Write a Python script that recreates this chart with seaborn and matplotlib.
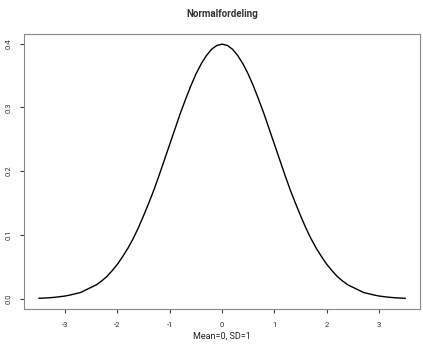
import matplotlib
matplotlib.use("Agg")
import matplotlib.pyplot as plt
import seaborn as sns
import pandas as pd

# values
x_vals = [-3.5, -3.4, -3.3, -3.2, -3.1, -3.0, -2.9, -2.8, -2.7, -2.6, -2.5, -2.4, -2.3, -2.2, -2.1,
          -2.0, -1.9, -1.8, -1.7, -1.6, -1.5, -1.4, -1.3, -1.2, -1.1, -1.0, -0.9, -0.8, -0.7, -0.6,
          -0.5, -0.4, -0.3, -0.2, -0.1, 0.0, 0.1, 0.2, 0.3, 0.4, 0.5, 0.6, 0.7, 0.8, 0.9, 1.0,
          1.1, 1.2, 1.3, 1.4, 1.5, 1.6, 1.7, 1.8, 1.9, 2.0, 2.1, 2.2, 2.3, 2.4, 2.5, 2.6, 2.7,
          2.8, 2.9, 3.0, 3.1, 3.2, 3.3, 3.4, 3.5]
density = [0.0009, 0.0012, 0.0017, 0.0024, 0.0033, 0.0044, 0.006, 0.008, 0.010, 0.014, 0.018, 0.022, 0.028,
           0.035, 0.044, 0.054, 0.066, 0.079, 0.094, 0.111, 0.130, 0.150, 0.171, 0.194, 0.218, 0.242,
           0.266, 0.290, 0.312, 0.333, 0.352, 0.368, 0.381, 0.391, 0.397, 0.399, 0.397, 0.391, 0.381,
           0.368, 0.352, 0.333, 0.312, 0.290, 0.266, 0.242, 0.218, 0.194, 0.171, 0.150, 0.130, 0.111,
           0.094, 0.079, 0.066, 0.054, 0.044, 0.035, 0.028, 0.022, 0.018, 0.014, 0.010, 0.008, 0.006,
           0.0044, 0.0033, 0.0024, 0.0017, 0.0012, 0.0009]
x_ticks = [-3, -2, -1, 0, 1, 2, 3]
y_ticks = [0.0, 0.1, 0.2, 0.3, 0.4]
y_ticklabels = ["0.0", "0.1", "0.2", "0.3", "0.4"]

df = pd.DataFrame({"x": x_vals, "y": density})

sns.set_style("white")
plt.rcParams['font.family'] = ['Roboto', 'DejaVu Sans']

fig = plt.figure(figsize=(4.23, 3.5), dpi=100)
ax = fig.add_axes([0.057, 0.117, 0.936, 0.786])
sns.lineplot(data=df, x="x", y="y", color="black", linewidth=1.0, ax=ax)

ax.set_xlim(-3.78, 3.78)
ax.set_ylim(-0.016, 0.415)
ax.set_xticks(x_ticks)
ax.set_xticklabels([str(t) for t in x_ticks])
ax.set_yticks(y_ticks)
ax.set_yticklabels(y_ticklabels, rotation=90, va="center")
ax.tick_params(axis="both", direction="out", length=3, width=0.8, color="#444444",
               labelsize=5.5, labelcolor="#333333", pad=6, bottom=True, left=True)
for s in ax.spines.values():
    s.set_color("#888888")
    s.set_linewidth(0.8)

ax.set_xlabel("Mean=0, SD=1", fontsize=6.5, color="#222222", labelpad=3)
ax.set_ylabel("")
ax.set_title("Normalfordeling", fontsize=7, fontweight="bold", color="#333333", pad=12)

fig.savefig("out.png", dpi=100)
